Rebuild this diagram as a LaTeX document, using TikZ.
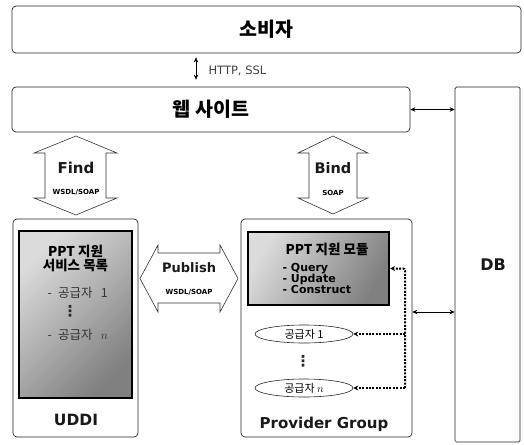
\documentclass[tikz,border=0pt]{standalone}
\usepackage{fontspec}
\setmainfont{DejaVu Sans}
\newfontfamily\kr{Noto Sans CJK KR}
\usetikzlibrary{arrows.meta,shapes.geometric}

\begin{document}
\begin{tikzpicture}[x=1pt,y=-1pt,
  frame/.style={draw=black!85, line width=0.7pt, rounded corners=4pt, inner sep=0pt},
  panel/.style={draw=black, line width=2.2pt, inner sep=0pt,
    shading=axis, top color=black!14, middle color=black!21, bottom color=black!50,
    shading angle=45},
  blockarrow/.style={draw=black!80, line width=0.6pt, fill=white},
  biglabel/.style={font=\bfseries\fontsize{15}{17}\selectfont, text=black!90},
  tinylabel/.style={font=\bfseries\fontsize{7}{8}\selectfont},
  vdotlabel/.style={font=\bfseries\fontsize{15}{15}\selectfont, text=black!85, inner sep=0pt},
  link/.style={line width=0.8pt, {Stealth[length=5pt,width=4.5pt]}-{Stealth[length=5pt,width=4.5pt]}},
  dotlink/.style={line width=2pt, dash pattern=on 2pt off 1.4pt, rounded corners=2pt},
  dottip/.style={-{Stealth[length=5pt,width=5pt]}},
  member/.style={draw=black!85, line width=0.6pt, ellipse, minimum width=98pt, minimum height=18pt, inner sep=0pt,
    font=\kr\fontsize{11}{12}\selectfont}
]
\useasboundingbox (0,0) rectangle (524,444);

% top row: consumer and web site
\node[frame, minimum width=509pt, minimum height=47pt, font=\kr\bfseries\fontsize{19.5}{22}\selectfont]
  (consumer) at (266.5,29.5) {소비자};
\node[frame, minimum width=398pt, minimum height=45pt, font=\kr\bfseries\fontsize{19.5}{22}\selectfont]
  (web) at (211,109.5) {웹 사이트};

% database column
\node[draw=black!85, line width=0.7pt, rounded corners=1.5pt, minimum width=65pt, minimum height=355pt, inner sep=0pt]
  (db) at (487.5,264.5) {};
\node[biglabel, font=\bfseries\fontsize{16}{18}\selectfont] (dblabel) at (493,265) {DB};

% HTTP link between consumer and web site
\coordinate (hx) at (196,0);
\draw[link, line width=0.9pt, shorten <=4pt, shorten >=7pt] (consumer.south -| hx) -- (web.north -| hx);
\node[anchor=west, text=black!75, font=\fontsize{11.5}{13}\selectfont] (http) at (205,71) {HTTP, SSL};

% UDDI registry
\node[frame, minimum width=125pt, minimum height=218pt] (uddi) at (75.5,328) {};
\node[panel, minimum width=113pt, minimum height=167pt] (registry) at (75.5,314.5) {};
\node[font=\kr\bfseries\fontsize{13.5}{15}\selectfont, align=center] (regtitle) at (75.5,258)
  {PPT 지원\\[-1pt]서비스 목록};
\node[anchor=west, font=\kr\fontsize{12.5}{14}\selectfont, text=black!80] (reg1) at (44,293) {-\; 공급자\;\, 1};
\node[vdotlabel] (regdots) at (70,311) {⋮};
\node[anchor=west, font=\kr\fontsize{12.5}{14}\selectfont, text=black!80] (regn) at (44,335) {-\; 공급자\;\, $n$};
\node[biglabel, font=\bfseries\fontsize{15.5}{17}\selectfont] (uddilabel) at (76,420) {UDDI};

% provider group
\node[frame, minimum width=171pt, minimum height=218pt] (group) at (326.5,328) {};
\node[panel, minimum width=141pt, minimum height=73pt, shading angle=60] (module) at (318.5,268.5) {};
\node[font=\kr\bfseries\fontsize{13.5}{15}\selectfont] (modtitle) at (327,249) {PPT 지원 모듈};
\node[anchor=west, font=\bfseries\fontsize{11}{13}\selectfont, align=left] (modops) at (279,278.5)
  {- Query\\[-2.2pt]- Update\\[-2.2pt]- Construct};
\node[member] (p1) at (304,334) {공급자 1};
\node[vdotlabel] (pdots) at (303,361) {⋮};
\node[member] (pn) at (304,388) {공급자 $n$};
\node[biglabel, font=\bfseries\fontsize{15}{17}\selectfont] (grouplabel) at (324,424) {Provider Group};

% dotted links from the module to the providers
\coordinate (bus) at (405,0);
\draw[dotlink, dottip] (pn.east -| bus) -- (bus |- module.east) -- (module.east);
\draw[dotlink, dottip] (pn.east -| bus) -- (pn.east);
\draw[dotlink, dottip] (p1.east -| bus) -- (p1.east);

% links to the database
\draw[link] (web.east) -- (web.east -| db.west);
\coordinate (row2) at (0,312);
\draw[link] (group.east |- row2) -- (db.west |- row2);

% Find: vertical double block arrow
\draw[blockarrow] (76,136) -- (117,153) -- (106,153) -- (106,198) -- (117,198) -- (76,215)
  -- (34,198) -- (45,198) -- (45,153) -- (34,153) -- cycle;
\node[biglabel, font=\bfseries\fontsize{15}{17}\selectfont] (find) at (76,168) {Find};
\node[tinylabel] (findsub) at (76,192) {WSDL/SOAP};

% Bind: vertical double block arrow
\draw[blockarrow] (333,136) -- (368,153) -- (357,153) -- (357,198) -- (368,198) -- (333,214)
  -- (298,198) -- (309,198) -- (309,153) -- (298,153) -- cycle;
\node[biglabel, font=\bfseries\fontsize{14.5}{17}\selectfont] (bind) at (333,168) {Bind};
\node[tinylabel] (bindsub) at (333,193) {SOAP};

% Publish: horizontal double block arrow
\draw[blockarrow] (140,278.5) -- (158,245) -- (158,253) -- (220,253) -- (220,245) -- (238,278.5)
  -- (220,312) -- (220,303) -- (158,303) -- (158,312) -- cycle;
\node[biglabel, font=\bfseries\fontsize{13}{15}\selectfont] (publish) at (189,268) {Publish};
\node[tinylabel] (pubsub) at (189,292) {WSDL/SOAP};
\end{tikzpicture}
\end{document}
